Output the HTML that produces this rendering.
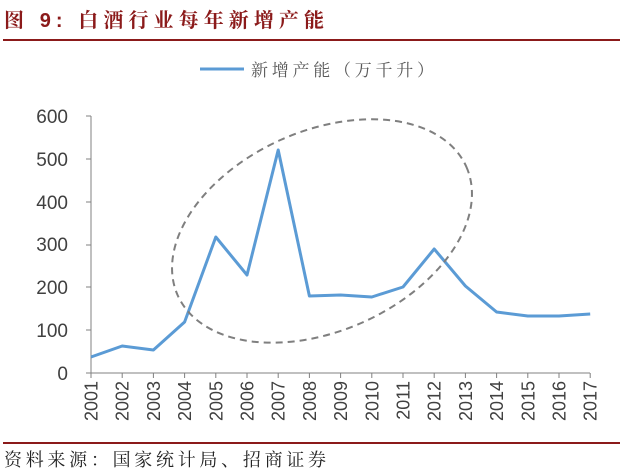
<!DOCTYPE html>
<html><head><meta charset="utf-8"><style>
body{margin:0;background:#fff;width:622px;height:470px;overflow:hidden}
</style></head><body>
<svg width="622" height="470" xmlns="http://www.w3.org/2000/svg" font-family="Liberation Sans, Noto Sans CJK SC, sans-serif">
<text x="4" y="27" font-size="20" font-weight="bold" fill="#8B1A1A" font-family="Liberation Sans, Noto Serif CJK SC, serif" textLength="320" lengthAdjust="spacing">图 9:  白酒行业每年新增产能</text>
<line x1="3" y1="40" x2="620" y2="40" stroke="#8B1A1A" stroke-width="2"/>
<line x1="200" y1="69" x2="244" y2="69" stroke="#5b9bd5" stroke-width="3"/>
<text x="251" y="76" font-size="17" fill="#595959" font-family="Noto Serif CJK SC, serif" textLength="183" lengthAdjust="spacing">新增产能（万千升）</text>
<g font-size="19" fill="#404040" text-anchor="end">
<text x="68" y="380">0</text><text x="68" y="337">100</text><text x="68" y="294">200</text>
<text x="68" y="251">300</text><text x="68" y="209">400</text><text x="68" y="166">500</text><text x="68" y="123">600</text>
</g>
<g stroke="#808080" stroke-width="1">
<line x1="91" y1="116" x2="91" y2="373"/>
<line x1="86" y1="116" x2="91" y2="116"/><line x1="86" y1="159" x2="91" y2="159"/><line x1="86" y1="202" x2="91" y2="202"/><line x1="86" y1="245" x2="91" y2="245"/><line x1="86" y1="287" x2="91" y2="287"/><line x1="86" y1="330" x2="91" y2="330"/><line x1="86" y1="373" x2="91" y2="373"/>
<line x1="91" y1="373" x2="590" y2="373"/>
<path d="M122.2 373v5M153.4 373v5M184.6 373v5M215.8 373v5M247 373v5M278.2 373v5M309.4 373v5M340.6 373v5M371.8 373v5M403 373v5M434.2 373v5M465.4 373v5M496.6 373v5M527.8 373v5M559 373v5M590.2 373v5M91 373v5"/>
</g>
<polyline fill="none" stroke="#5b9bd5" stroke-width="3" stroke-linejoin="round" points="91,357 122.2,346 153.4,350 184.6,322 215.8,237 247,275 278.2,150 309.4,296 340.6,295 371.8,297 403,287 434.2,249 465.4,286 496.6,312 527.8,316 559,316 590.2,314"/>
<ellipse cx="322" cy="231" rx="158" ry="100" transform="rotate(-24 322 231)" fill="none" stroke="#7f7f7f" stroke-width="2" stroke-dasharray="7,5"/>
<g font-size="18" fill="#404040" text-anchor="end">
<text transform="translate(97.5,381) rotate(-90)">2001</text>
<text transform="translate(128.7,381) rotate(-90)">2002</text>
<text transform="translate(159.9,381) rotate(-90)">2003</text>
<text transform="translate(191.1,381) rotate(-90)">2004</text>
<text transform="translate(222.3,381) rotate(-90)">2005</text>
<text transform="translate(253.5,381) rotate(-90)">2006</text>
<text transform="translate(284.7,381) rotate(-90)">2007</text>
<text transform="translate(315.9,381) rotate(-90)">2008</text>
<text transform="translate(347.1,381) rotate(-90)">2009</text>
<text transform="translate(378.3,381) rotate(-90)">2010</text>
<text transform="translate(409.5,381) rotate(-90)">2011</text>
<text transform="translate(440.7,381) rotate(-90)">2012</text>
<text transform="translate(471.9,381) rotate(-90)">2013</text>
<text transform="translate(503.1,381) rotate(-90)">2014</text>
<text transform="translate(534.3,381) rotate(-90)">2015</text>
<text transform="translate(565.5,381) rotate(-90)">2016</text>
<text transform="translate(596.7,381) rotate(-90)">2017</text>
</g>
<line x1="3" y1="443" x2="620" y2="443" stroke="#8B1A1A" stroke-width="2"/>
<text x="4" y="466" font-size="18" fill="#222" font-family="Noto Serif CJK SC, serif" textLength="322" lengthAdjust="spacing">资料来源：国家统计局、招商证券</text>
</svg>
</body></html>
